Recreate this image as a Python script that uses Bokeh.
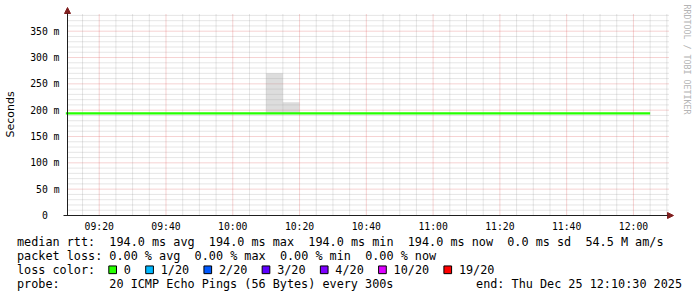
import re
from datetime import datetime, timezone
from math import pi

from bokeh.plotting import figure
from bokeh.models import Range1d, FixedTicker, Arrow, NormalHead
from bokeh.core.properties import value
from bokeh.embed import file_html
from bokeh.resources import INLINE

# ---------------- data ----------------
DAY = (2025, 12, 25)
range_start = "09:10:30"
range_end = "12:10:30"

step_times = ["09:10", "09:15", "09:20", "09:25", "09:30", "09:35", "09:40", "09:45",
              "09:50", "09:55", "10:00", "10:05", "10:10", "10:15", "10:20", "10:25",
              "10:30", "10:35", "10:40", "10:45", "10:50", "10:55", "11:00", "11:05",
              "11:10", "11:15", "11:20", "11:25", "11:30", "11:35", "11:40", "11:45",
              "11:50", "11:55", "12:00", "12:05"]
# median rtt per 5-minute step (seconds)
median_rtt = [0.194, 0.194, 0.194, 0.194, 0.194, 0.194, 0.194, 0.194,
              0.194, 0.194, 0.194, 0.194, 0.194, 0.194, 0.194, 0.194,
              0.194, 0.194, 0.194, 0.194, 0.194, 0.194, 0.194, 0.194,
              0.194, 0.194, 0.194, 0.194, 0.194, 0.194, 0.194, 0.194,
              0.194, 0.194, 0.194, 0.194]
# highest ping per step (smoke top, seconds)
max_rtt = [0.194, 0.194, 0.194, 0.194, 0.194, 0.194, 0.194, 0.194,
           0.194, 0.194, 0.194, 0.194, 0.270, 0.215, 0.194, 0.194,
           0.194, 0.194, 0.194, 0.194, 0.194, 0.194, 0.194, 0.194,
           0.194, 0.194, 0.194, 0.194, 0.194, 0.194, 0.194, 0.194,
           0.194, 0.194, 0.194, 0.194]

x_tick_times = ["09:20", "09:40", "10:00", "10:20", "10:40", "11:00", "11:20", "11:40", "12:00"]
x_tick_labels = ["09:20", "09:40", "10:00", "10:20", "10:40", "11:00", "11:20", "11:40", "12:00"]
y_tick_values = [0, 0.05, 0.10, 0.15, 0.20, 0.25, 0.30, 0.35]
y_tick_labels = ["0", "50 m", "100 m", "150 m", "200 m", "250 m", "300 m", "350 m"]

rtt_stats = [(194.0, "avg"), (194.0, "max"), (194.0, "min"), (194.0, "now")]
rtt_sd = 0.0
am_per_s = 54.5
loss_stats = [(0.00, "avg"), (0.00, "max"), (0.00, "min"), (0.00, "now")]
loss_labels = ["0", "1/20", "2/20", "3/20", "4/20", "10/20", "19/20"]
loss_colors = ["#26ff00", "#00b8ff", "#0059ff", "#5e00ff", "#7e00ff", "#dd00ff", "#ff0000"]
probe_text = "20 ICMP Echo Pings (56 Bytes) every 300s"
end_text = "end: Thu Dec 25 12:10:30 2025"
watermark = "RRDTOOL / TOBI OETIKER"


def ms(hm):
    parts = [int(v) for v in hm.split(":")]
    while len(parts) < 3:
        parts.append(0)
    return datetime(*DAY, parts[0], parts[1], parts[2], tzinfo=timezone.utc).timestamp() * 1000.0


MIN = 60000.0
t0, t1 = ms(range_start), ms(range_end)
xs = [ms(t) for t in step_times]

# ---------------- layout (pixels) ----------------
W, H = 697, 297
GX0, GX1 = 67, 668          # grid area left/right
GY0, GYT = 215, 13          # y of value 0, top of grid
PX_PER_S = 184.3 / 0.35     # vertical scale
ppx = (GX1 - GX0) / (t1 - t0)   # px per ms
y_top = (GY0 - GYT) / PX_PER_S


def px_t(px):
    return t0 + (px - GX0) / ppx


def px_v(py):
    return (GY0 - py) / PX_PER_S


AXIS = "#1f1f1f"
ARROW = "#801f1f"
MONO = "DejaVu Sans Mono"

p = figure(width=W, height=H, x_axis_type="datetime",
           x_range=Range1d(px_t(0), px_t(W)), y_range=Range1d(px_v(H), px_v(0)),
           output_backend="svg", toolbar_location=None,
           min_border=0, min_border_left=0, min_border_right=0, min_border_top=0, min_border_bottom=0,
           background_fill_color="white", border_fill_color="white",
           outline_line_color=None)
p.extra_x_ranges = {"px": Range1d(0, W)}
p.extra_y_ranges = {"px": Range1d(H, 0)}
p.xgrid.visible = False
p.ygrid.visible = False

x_major = [ms(t) for t in x_tick_times]
x_minor = [t0 + (k * 5 - 0.5) * MIN for k in range(1, 37)]
x_minor = [v for v in x_minor if all(abs(v - m) > 1 for m in x_major)]
y_minor = [round(i * 0.01, 2) for i in range(39) if i % 5]

# axes pinned at the data origin
p.xaxis.fixed_location = 0
p.yaxis.fixed_location = t0
p.xaxis.bounds = (t0, t1)
p.yaxis.bounds = (0, y_top)
p.xaxis.ticker = FixedTicker(ticks=x_major)
p.yaxis.ticker = FixedTicker(ticks=y_tick_values)
p.xaxis.major_label_overrides = {v: l for v, l in zip(x_major, x_tick_labels)}
p.yaxis.major_label_overrides = {v: (l if " " in l else l + "\u00a0\u00a0")
                                 for v, l in zip(y_tick_values, y_tick_labels)}
for ax in (p.xaxis[0], p.yaxis[0]):
    ax.axis_line_color = None
    ax.major_tick_line_color = None
    ax.minor_tick_line_color = None
    ax.major_tick_out = 0
    ax.major_tick_in = 0
    ax.minor_tick_out = 0
    ax.minor_tick_in = 0
    ax.major_label_text_font = MONO
    ax.major_label_text_font_size = "9.75px"
    ax.major_label_text_color = "#000000"
p.xaxis.major_label_standoff = 5
p.yaxis.major_label_standoff = 8
p.yaxis.axis_label = "Seconds"
p.yaxis.axis_label_text_font = "DejaVu Sans"
p.yaxis.axis_label_text_font_size = "11px"
p.yaxis.axis_label_text_font_style = "normal"
p.yaxis.axis_label_text_color = "#000000"
p.yaxis.axis_label_standoff = 10

# grid (minor grey dotted, major red dotted), restricted to the graph area
p.segment(x0=x_minor, y0=[0] * len(x_minor), x1=x_minor, y1=[y_top] * len(x_minor),
          line_color="#8f8f8f", line_alpha=0.45, line_dash="1 1", line_width=1)
p.segment(x0=[t0] * len(y_minor), y0=y_minor, x1=[t1] * len(y_minor), y1=y_minor,
          line_color="#8f8f8f", line_alpha=0.45, line_dash="1 1", line_width=1)
p.segment(x0=x_major, y0=[0] * len(x_major), x1=x_major, y1=[y_top] * len(x_major),
          line_color="#de4f4f", line_alpha=0.5, line_dash="1 1", line_width=1)
p.segment(x0=[t0] * len(y_tick_values), y0=y_tick_values, x1=[t1] * len(y_tick_values), y1=y_tick_values,
          line_color="#de4f4f", line_alpha=0.5, line_dash="1 1", line_width=1)

# smoke
p.quad(left=xs, right=[x + 5 * MIN for x in xs], bottom=median_rtt, top=max_rtt,
       fill_color="#a0a0a0", fill_alpha=0.36, line_color=None)
# median line
p.line(xs, median_rtt, line_color=loss_colors[0], line_width=2.4)

# axis lines with arrow heads
p.add_layout(Arrow(end=NormalHead(size=6, fill_color=ARROW, line_color=ARROW, line_width=1),
                   x_start=t0, y_start=0, x_end=t0, y_end=px_v(7),
                   line_color=AXIS, line_width=1))
p.add_layout(Arrow(end=NormalHead(size=6, fill_color=ARROW, line_color=ARROW, line_width=1),
                   x_start=px_t(GX0 - 4), y_start=0, x_end=px_t(GX1 + 5), y_end=0,
                   line_color=AXIS, line_width=1))

# watermark
p.text(x=[686], y=[4], text=[watermark], angle=-pi / 2, text_align="left", text_baseline="middle",
       text_font=value(MONO), text_font_size="8.3px", text_color="#b4b4b4",
       x_range_name="px", y_range_name="px")

# ---------------- legend area ----------------
CW = 0.6021 * 11.8
X0 = 16.5
rows_y = [241.5, 255.5, 269.3, 283.3]

line1 = "median rtt:  " + "  ".join(f"{v:.1f} ms {k}" for v, k in rtt_stats) + \
        f"  {rtt_sd:.1f} ms sd  {am_per_s:.1f} M am/s"
line2 = "packet loss: " + "  ".join(f"{v:.2f} % {k}" for v, k in loss_stats)
line4 = "probe:       " + probe_text

tx, ty, tt = [], [], []
for line, yy in ((line1, rows_y[0]), (line2, rows_y[1]), ("loss color:", rows_y[2]), (line4, rows_y[3])):
    for m in re.finditer(r"\S+(?: \S+)*", line):
        tx.append(X0 + m.start() * CW)
        ty.append(yy)
        tt.append(m.group(0))

bx, lx = [], []
x = 108.3
for lab in loss_labels:
    bx.append(x + 3.85)
    lx.append(x + 15.0)
    x = x + 15.0 + len(lab) * CW + 14.8
tx += lx
ty += [rows_y[2]] * len(lx)
tt += loss_labels

p.text(x=tx, y=ty, text=tt, text_font=value(MONO), text_font_size="11.8px",
       text_baseline="middle", text_align="left", text_color="#000000",
       x_range_name="px", y_range_name="px")
p.text(x=[681.5], y=[rows_y[3]], text=[end_text], text_font=value(MONO), text_font_size="11.8px",
       text_baseline="middle", text_align="right", text_color="#000000",
       x_range_name="px", y_range_name="px")
p.rect(x=bx, y=[rows_y[2]] * len(bx), width=7.7, height=7.7,
       fill_color=loss_colors, line_color="#000000", line_width=1,
       x_range_name="px", y_range_name="px")

open("out.html", "w").write(file_html(p, INLINE))
